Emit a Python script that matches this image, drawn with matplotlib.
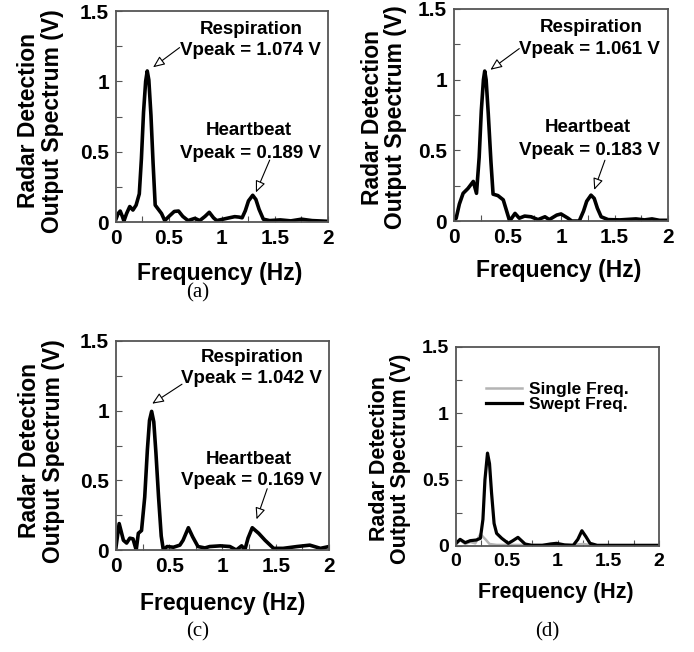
import matplotlib
matplotlib.use("Agg")
import matplotlib.pyplot as plt
from matplotlib.ticker import MultipleLocator

# panel (a)
freq_a = [0, 0.02, 0.04, 0.06, 0.075, 0.10, 0.13, 0.16, 0.19, 0.22, 0.24, 0.26, 0.28, 0.295, 0.31, 0.33,
          0.35, 0.37, 0.40, 0.43, 0.46, 0.50, 0.55, 0.59, 0.63, 0.68, 0.72, 0.745, 0.79, 0.84, 0.88, 0.92,
          0.95, 1.01, 1.07, 1.12, 1.16, 1.19, 1.22, 1.25, 1.29, 1.32, 1.35, 1.39, 1.45, 1.55, 1.65, 1.75,
          1.85, 2.0]
amp_a = [0.02, 0.06, 0.078, 0.04, 0.007, 0.06, 0.11, 0.085, 0.12, 0.2, 0.45, 0.78, 1.0, 1.074, 1.01, 0.76,
         0.42, 0.12, 0.09, 0.06, 0.01, 0.04, 0.075, 0.078, 0.04, 0.01, 0.02, 0.026, 0.01, 0.04, 0.069, 0.03,
         0.01, 0.02, 0.03, 0.038, 0.035, 0.03, 0.08, 0.15, 0.19, 0.16, 0.09, 0.02, 0.01, 0.015, 0.008, 0.02,
         0.01, 0.005]

# panel (b)
freq_b = [0, 0.02, 0.05, 0.085, 0.13, 0.18, 0.21, 0.235, 0.255, 0.275, 0.287, 0.30, 0.32, 0.345, 0.365,
          0.41, 0.46, 0.52, 0.57, 0.61, 0.66, 0.72, 0.785, 0.85, 0.89, 0.96, 1.0, 1.065, 1.1, 1.17, 1.21,
          1.24, 1.28, 1.31, 1.34, 1.375, 1.44, 1.55, 1.7, 1.78, 1.85, 1.92, 2.0]
amp_b = [0.0, 0.02, 0.12, 0.196, 0.23, 0.28, 0.196, 0.45, 0.78, 1.0, 1.061, 1.0, 0.76, 0.42, 0.19,
         0.18, 0.15, 0.0, 0.054, 0.02, 0.035, 0.03, 0.01, 0.03, 0.01, 0.042, 0.05, 0.02, 0.0, 0.0, 0.07,
         0.14, 0.183, 0.16, 0.09, 0.03, 0.01, 0.008, 0.015, 0.008, 0.015, 0.005, 0.005]

# panel (c)
freq_c = [0, 0.03, 0.07, 0.10, 0.13, 0.16, 0.19, 0.21, 0.24, 0.27, 0.295, 0.315, 0.335, 0.355, 0.375,
          0.40, 0.425, 0.445, 0.48, 0.54, 0.60, 0.63, 0.68, 0.72, 0.77, 0.835, 0.88, 0.98, 1.07, 1.13,
          1.18, 1.21, 1.24, 1.28, 1.34, 1.40, 1.48, 1.57, 1.70, 1.82, 1.92, 2.0]
amp_c = [0.02, 0.19, 0.07, 0.05, 0.085, 0.08, 0.0, 0.12, 0.14, 0.38, 0.72, 0.93, 0.995, 0.92, 0.7,
         0.38, 0.1, 0.0, 0.025, 0.02, 0.035, 0.07, 0.16, 0.095, 0.025, 0.015, 0.025, 0.03, 0.025, 0.0,
         0.03, 0.0, 0.085, 0.16, 0.12, 0.07, 0.012, 0.012, 0.025, 0.035, 0.012, 0.025]

# panel (d)
freq_swept = [0, 0.04, 0.09, 0.14, 0.20, 0.24, 0.265, 0.285, 0.31, 0.33, 0.35, 0.375, 0.40, 0.45, 0.515,
              0.56, 0.61, 0.68, 0.745, 0.85, 0.93, 0.99, 1.07, 1.155, 1.20, 1.24, 1.28, 1.32, 1.39, 1.6,
              1.8, 2.0]
amp_swept = [0.02, 0.05, 0.025, 0.04, 0.045, 0.058, 0.2, 0.5, 0.70, 0.62, 0.4, 0.17, 0.095, 0.058, 0.02,
             0.04, 0.065, 0.015, 0.005, 0.005, 0.015, 0.02, 0.008, 0.005, 0.05, 0.115, 0.07, 0.02, 0.005,
             0.005, 0.005, 0.005]
freq_single = [0, 0.04, 0.09, 0.14, 0.19, 0.24, 0.29, 0.33, 0.40, 0.6, 0.9, 1.15, 1.25, 1.35, 1.6, 2.0]
amp_single = [0.01, 0.045, 0.015, 0.03, 0.02, 0.09, 0.05, 0.015, 0.008, 0.008, 0.008, 0.008, 0.015, 0.005,
              0.005, 0.005]

resp_labels = ["Vpeak = 1.074 V", "Vpeak = 1.061 V", "Vpeak = 1.042 V"]
heart_labels = ["Vpeak = 0.189 V", "Vpeak = 0.183 V", "Vpeak = 0.169 V"]

plt.rcParams["font.family"] = "Liberation Sans"
plt.rcParams["font.weight"] = "bold"

fig = plt.figure(figsize=(6.94, 6.52), dpi=100)

ax_a = fig.add_axes([0.1671, 0.6595, 0.3055, 0.3236])
ax_b = fig.add_axes([0.6542, 0.6610, 0.3084, 0.3252])
ax_c = fig.add_axes([0.1671, 0.1564, 0.3069, 0.3206])
ax_d = fig.add_axes([0.6571, 0.1626, 0.2925, 0.3052])

ylab = "Radar Detection\nOutput Spectrum (V)"


def style(ax, fs_tick, fs_lab, ylab_x, ylab_y, xlab_y, xlab_x=0.5):
    ax.set_xlim(0, 2)
    ax.set_ylim(0, 1.5)
    ax.xaxis.set_minor_locator(MultipleLocator(0.25))
    ax.yaxis.set_minor_locator(MultipleLocator(0.25))
    ax.set_xticks([0, 0.5, 1, 1.5, 2], ["0", "0.5", "1", "1.5", "2"])
    ax.set_yticks([0, 0.5, 1, 1.5], ["0", "0.5", "1", "1.5"])
    ax.tick_params(which="both", direction="in", length=4, width=0.8, color="#555555",
                   labelsize=fs_tick, pad=5)
    for sp in ax.spines.values():
        sp.set_color("#555555")
        sp.set_linewidth(1.3)
    ax.set_xlabel("Frequency (Hz)", fontsize=fs_lab, fontweight="bold", va="center")
    ax.xaxis.set_label_coords(xlab_x, xlab_y)
    ax.set_ylabel(ylab, fontsize=fs_lab, fontweight="bold", va="center", linespacing=1.05)
    ax.yaxis.set_label_coords(ylab_x, ylab_y)


arrow_kw = dict(arrowstyle="-|>,head_length=0.7,head_width=0.3", fc="white", ec="black", lw=0.8,
                shrinkA=0, shrinkB=0)


def annotate(ax, resp, heart, resp_tail, resp_head, heart_tail, heart_head, r_y, h_y):
    ax.text(1.28, r_y[0], "Respiration", ha="center", va="center", fontsize=13.5, fontweight="bold")
    ax.text(1.27, r_y[1], resp, ha="center", va="center", fontsize=13.5, fontweight="bold")
    ax.text(1.25, h_y[0], "Heartbeat", ha="center", va="center", fontsize=13.5, fontweight="bold")
    ax.text(1.27, h_y[1], heart, ha="center", va="center", fontsize=13.5, fontweight="bold")
    ax.annotate("", xy=resp_head, xytext=resp_tail, arrowprops=arrow_kw)
    ax.annotate("", xy=heart_head, xytext=heart_tail, arrowprops=arrow_kw)


line_kw = dict(color="black", lw=2.6, solid_joinstyle="round")

ax_a.plot(freq_a, amp_a, **line_kw)
style(ax_a, 15, 16.5, -0.358, 0.48, -0.242, 0.49)
annotate(ax_a, resp_labels[0], heart_labels[0], (0.60, 1.24), (0.35, 1.10), (1.45, 0.44), (1.32, 0.21),
         (1.37, 1.22), (0.65, 0.49))

ax_b.plot(freq_b, amp_b, **line_kw)
style(ax_b, 15, 16.5, -0.327, 0.49, -0.231, 0.49)
annotate(ax_b, resp_labels[1], heart_labels[1], (0.61, 1.22), (0.34, 1.07), (1.41, 0.43), (1.31, 0.22),
         (1.366, 1.21), (0.66, 0.50))

ax_c.plot(freq_c, amp_c, **line_kw)
style(ax_c, 15, 16.5, -0.35, 0.474, -0.258, 0.5)
annotate(ax_c, resp_labels[2], heart_labels[2], (0.62, 1.19), (0.34, 1.05), (1.42, 0.44), (1.32, 0.22),
         (1.38, 1.23), (0.65, 0.50))

ax_d.plot(freq_single, amp_single, color="#b4b4b4", lw=1.8, label="Single Freq.")
ax_d.plot(freq_swept, amp_swept, color="black", lw=2.3, solid_joinstyle="round", label="Swept Freq.")
style(ax_d, 14, 15.5, -0.325, 0.44, -0.236, 0.49)
ax_d.legend(loc="upper left", bbox_to_anchor=(0.105, 0.87), frameon=False,
            handlelength=2.1, handletextpad=0.4, labelspacing=0.0, borderpad=0,
            prop={"weight": "bold", "size": 12.5})

cap_kw = dict(family="Liberation Serif", fontweight="normal", fontsize=15, ha="center", va="center")
fig.text(198 / 694, 1 - 293 / 652, "(a)", **cap_kw)
fig.text(198 / 694, 1 - 632 / 652, "(c)", **cap_kw)
fig.text(547 / 694, 1 - 632 / 652, "(d)", **cap_kw)

fig.savefig("out.png", dpi=100)
